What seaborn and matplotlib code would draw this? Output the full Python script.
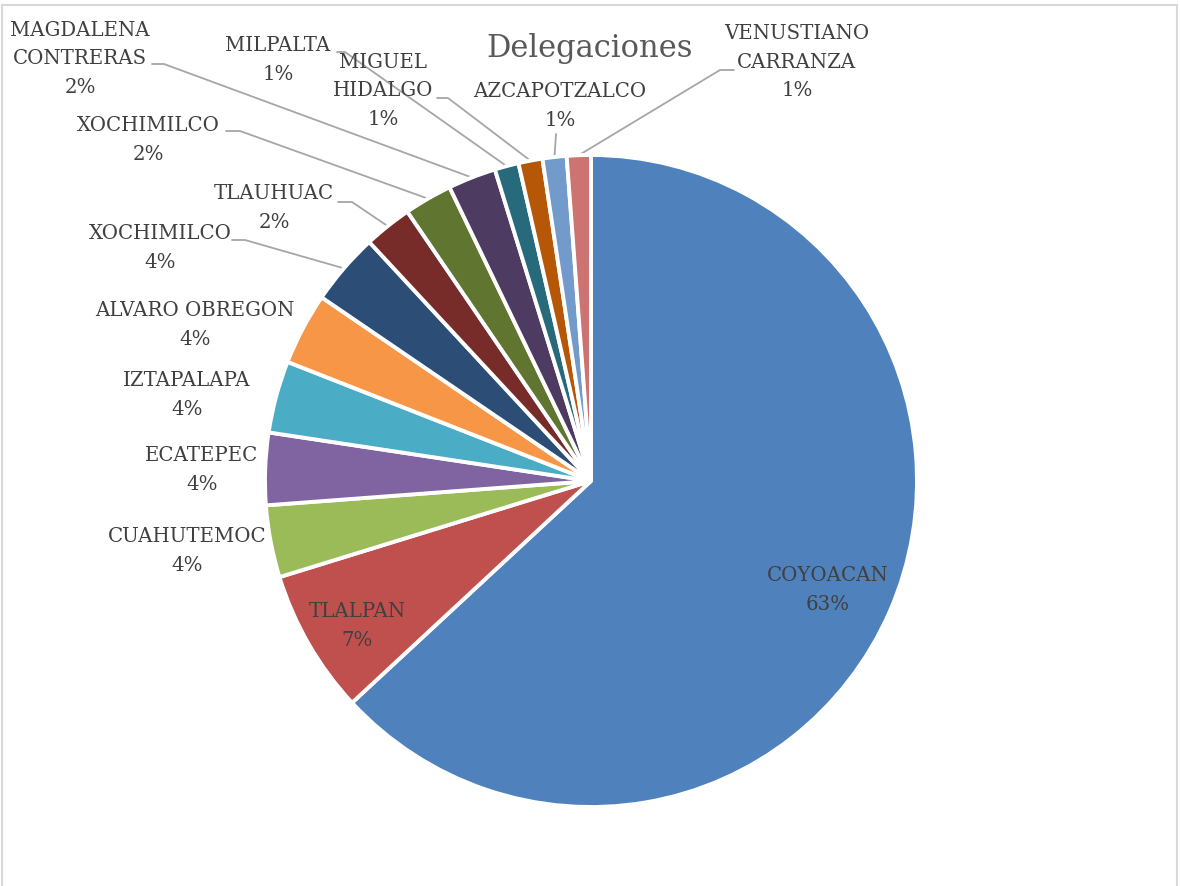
import matplotlib
matplotlib.use("Agg")
import matplotlib.pyplot as plt
import seaborn as sns
import numpy as np
from matplotlib.lines import Line2D

# ---- data ----
delegaciones = ["COYOACAN", "TLALPAN", "CUAHUTEMOC", "ECATEPEC", "IZTAPALAPA",
                "ALVARO OBREGON", "XOCHIMILCO", "TLAUHUAC", "XOCHIMILCO",
                "MAGDALENA\nCONTRERAS", "MILPALTA", "MIGUEL\nHIDALGO",
                "AZCAPOTZALCO", "VENUSTIANO\nCARRANZA"]
conteos = [53, 6, 3, 3, 3, 3, 3, 2, 2, 2, 1, 1, 1, 1]
colores = ["#4F81BD", "#C0504D", "#9BBB59", "#8064A2", "#4BACC6", "#F79646",
           "#2C4D75", "#772C2A", "#5F7530", "#4D3B62", "#276A7C", "#B65708",
           "#729ACA", "#CD7371"]
titulo = "Delegaciones"

# ---- layout (pixel positions of label centres, leader starts) ----
W, H = 1180, 886
CX, CY, R = 591, 481, 326
label_px = [(828, 590), (357, 626), (187, 551), (202, 470), (187, 395),
            (195, 325), (160, 248), (274, 208), (148, 140), (80, 59),
            (278, 60), (383, 91), (560, 106), (797, 62)]
# leader start (label side) with a short horizontal elbow; None = no leader
leader_px = [None, None, None, None, None, None,
             [(232, 240), (245, 240)], [(338, 202), (352, 202)],
             [(226, 131), (240, 131)], [(152, 64), (164, 64)],
             [(337, 52), (345, 52)], [(437, 98), (448, 98)],
             [(556, 134), (556, 134)], [(734, 70), (720, 70)]]

def px2d(p):
    return ((p[0] - CX) / R, (CY - p[1]) / R)

sns.set_theme(style="white")
plt.rcParams['font.family'] = ['DejaVu Serif']

fig = plt.figure(figsize=(W / 100, H / 100), dpi=100)
ax = fig.add_axes([(CX - R) / W, (H - CY - R) / H, 2 * R / W, 2 * R / H])
pal = sns.color_palette(colores)
wedges, _ = ax.pie(conteos, colors=pal, startangle=90, counterclock=False,
                   radius=1, wedgeprops=dict(edgecolor="white", linewidth=2.8))
ax.set_xlim(-1, 1)
ax.set_ylim(-1, 1)
ax.set_aspect("equal")
ax.axis("off")

total = sum(conteos)
txtcol = "#404040"
for i, (w, name, n) in enumerate(zip(wedges, delegaciones, conteos)):
    pct = round(100 * n / total)
    x, y = px2d(label_px[i])
    ax.text(x, y, f"{name}\n{pct}%", ha="center", va="center", fontsize=14.2,
            color=txtcol, linespacing=1.62, clip_on=False)
    if leader_px[i] is not None:
        ang = np.deg2rad((w.theta1 + w.theta2) / 2)
        ex, ey = np.cos(ang), np.sin(ang)
        p0 = px2d(leader_px[i][0])
        p1 = px2d(leader_px[i][1])
        ax.plot([p0[0], p1[0], ex], [p0[1], p1[1], ey], color="#A6A6A6",
                lw=1.3, clip_on=False, zorder=0.5)

fig.text(590 / W, 1 - 48 / H, titulo, ha="center", va="center", fontsize=22,
         color="#595959")

# chart border
bc = "#D9D9D9"
fig.add_artist(Line2D([2 / W, 2 / W], [0, 1 - 5 / H], color=bc, lw=1.5))
fig.add_artist(Line2D([2 / W, 1177 / W], [1 - 5 / H, 1 - 5 / H], color=bc, lw=1.5))
fig.add_artist(Line2D([1177 / W, 1177 / W], [0, 1 - 5 / H], color=bc, lw=1.5))

fig.savefig("out.png", dpi=100, facecolor="white")
